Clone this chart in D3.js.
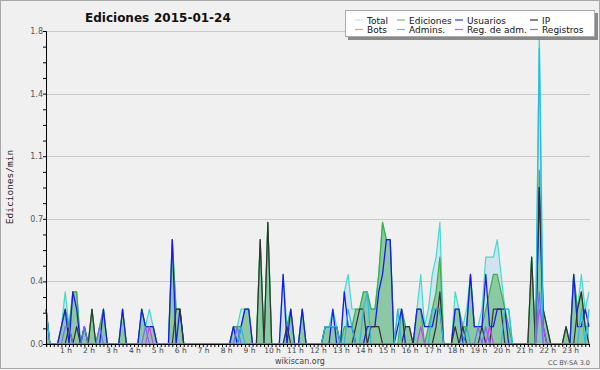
<!DOCTYPE html>
<html><head><meta charset="utf-8">
<script src="https://cdn.jsdelivr.net/npm/d3@7"></script>
<style>
html,body{margin:0;padding:0;background:#f0f0f0;}
svg{display:block;}
text{font-family:"DejaVu Sans",Verdana,sans-serif;}
</style></head>
<body>
<svg id="chart" width="600" height="370"></svg>
<script>
// 10-minute bins, index 0 = 00:00 ... 142 = 23:40
const total = [
 .2,0,0,0,.1,.3,.1,.3,.3,0,.1,0,
 .2,0,.1,.2,0,0,0,0,.2,0,0,0,
 0,.2,.1,.2,.1,0,0,0,0,.6,.2,.2,
 0,0,0,0,0,0,0,0,0,0,0,0,
 0,.1,.1,.2,.2,.2,0,0,.6,0,.7,0,
 0,0,.4,.1,.2,0,0,.2,0,0,0,0,
 0,.1,.1,.2,.1,0,.3,.4,.2,.2,.2,.3,
 .3,.2,.2,.4,.7,.6,.6,0,.2,.2,.1,.1,
 0,.2,.4,.1,.2,.4,.5,.7,0,0,0,.3,
 .2,.1,.2,.4,.1,.1,.2,.5,.5,.5,.6,.4,
 .2,.2,0,0,0,0,0,.5,0,1.8,.2,.1,
 0,0,0,0,.1,0,.4,.2,.4,.2,.3];
const ediciones = [
 .2,0,0,0,.1,.2,.1,.3,.3,0,.1,0,
 .2,0,.1,.2,0,0,0,0,.2,0,0,0,
 0,.2,.1,.1,.1,0,0,0,0,.6,.2,.2,
 0,0,0,0,0,0,0,0,0,0,0,0,
 0,.1,.1,.1,.2,.2,0,0,.6,0,.7,0,
 0,0,0,.1,.2,0,0,.2,0,0,0,0,
 0,.1,.1,.1,.1,0,.1,.1,.1,.2,.2,.3,
 .3,.2,.2,.4,.7,.6,.6,0,0,.2,.1,.1,
 0,.2,.2,0,.1,.2,.3,.5,0,0,0,.2,
 .2,.1,.1,.4,.1,.1,.1,.2,.3,.4,.4,.3,
 .2,.1,0,0,0,0,0,.5,0,1.0,.2,.1,
 0,0,0,0,.1,0,.4,.2,.3,.1,.1];
const usuarios = [
 .2,0,0,0,.1,.2,0,.3,.2,0,.1,0,
 0,0,0,.2,0,0,0,0,.2,0,0,0,
 0,.2,.1,.1,.1,0,0,0,0,.6,0,.2,
 0,0,0,0,0,0,0,0,0,0,0,0,
 0,.1,0,.1,.2,.2,0,0,0,0,0,0,
 0,0,.4,0,.2,0,0,.2,0,0,0,0,
 0,0,0,.2,0,0,.3,.1,.1,0,0,0,
 .1,.1,.1,.3,.4,.6,.6,0,.1,.2,0,0,
 0,.2,.2,.1,.1,.1,.2,.2,0,0,0,.2,
 .2,0,.1,.4,.1,.1,.1,.4,.1,.1,.2,.2,
 .2,0,0,0,0,0,0,0,0,.9,.1,0,
 0,0,0,0,0,0,.4,.1,.1,.2,.1];
const ip = [
 0,0,0,0,0,0,.1,0,.1,0,0,0,
 .2,0,0,0,0,0,0,0,0,0,0,0,
 0,0,0,0,0,0,0,0,0,0,.2,.2,
 0,0,0,0,0,0,0,0,0,0,0,0,
 0,0,0,0,0,0,0,0,.6,0,.7,0,
 0,0,0,.1,0,0,0,0,0,0,0,0,
 0,.1,.1,.1,.1,0,0,0,0,.1,.2,.2,
 0,.1,.1,.1,0,0,0,0,0,0,.1,.1,
 0,0,0,0,0,0,.1,.3,0,0,0,.1,
 0,.1,0,0,0,0,.1,0,0,.2,.2,.2,
 0,0,0,0,0,0,0,.5,0,.9,.2,.1,
 0,0,0,0,.1,0,0,.2,.3,.1,0];
const bots = [
 0,0,0,0,0,0,0,0,0,0,0,0, 0,0,0,0,0,0,0,0,0,0,0,0,
 0,0,0,0,0,0,0,0,0,0,0,0, 0,0,0,0,0,0,0,0,0,0,0,0,
 0,0,0,0,0,0,0,0,0,0,0,0, 0,0,0,0,0,0,0,0,0,0,0,0,
 0,0,0,0,0,0,0,0,0,0,0,0, 0,0,0,0,0,0,0,0,0,0,0,0,
 0,0,0,0,0,0,0,0,0,0,0,0, 0,0,0,0,0,0,0,0,0,0,0,0,
 0,0,0,0,0,0,0,0,0,0,0,0, 0,0,0,0,0,0,0,0,0,0,0];
const admins = [
 .2,0,0,0,0,0,0,0,0,0,0,0, 0,0,0,0,0,0,0,0,0,0,0,0,
 0,0,0,0,0,0,0,0,0,0,0,0, 0,0,0,0,0,0,0,0,0,0,0,0,
 0,0,0,.1,0,0,0,0,0,0,0,0, 0,0,0,0,0,0,0,0,0,0,0,0,
 0,.1,.1,.1,.1,0,0,.2,.1,0,0,.2, .3,0,0,0,0,0,0,0,.2,0,0,0,
 0,0,0,0,0,.2,.2,.2,0,0,0,0, 0,0,.1,0,0,0,0,0,0,0,0,0,
 .2,.2,0,0,0,0,0,0,0,1.7,0,0, 0,0,0,0,0,0,0,0,.2,0,.2];
const regAdm = [
 0,0,0,0,0,0,0,0,0,0,0,0, 0,0,0,0,0,0,0,0,0,0,0,0,
 0,0,0,.1,0,0,0,0,0,0,0,0, 0,0,0,0,0,0,0,0,0,0,0,0,
 0,0,0,0,0,0,0,0,0,0,0,0, 0,0,0,0,0,0,0,0,0,0,0,0,
 0,0,0,0,0,0,0,0,0,0,0,0, 0,0,0,0,0,0,0,0,0,0,0,0,
 0,0,.1,0,0,0,0,0,0,0,0,0, 0,0,0,0,0,0,0,0,.1,0,0,0,
 0,0,0,0,0,0,0,0,0,.2,.1,0, 0,0,0,0,0,0,0,0,0,0,0];
const registros = [
 0,0,0,0,0,.1,.1,0,0,0,.1,0, 0,0,.1,0,0,0,0,0,0,0,0,0,
 0,0,.1,0,0,0,0,0,0,0,0,0, 0,0,0,0,0,0,0,0,0,0,0,0,
 0,0,.1,0,0,0,0,0,0,0,0,0, 0,0,0,0,0,0,0,0,0,0,0,0,
 0,0,0,0,0,0,0,0,0,0,0,0, 0,0,0,0,0,0,0,0,0,0,0,0,
 0,0,0,0,0,0,0,0,0,0,0,0, 0,0,0,0,0,.1,0,.1,0,0,0,0,
 0,0,0,0,0,0,0,0,0,.3,0,0, 0,0,0,0,0,0,0,0,0,0,0];

const hourLabels = ["1 h","2 h","3 h","4 h","5 h","6 h","7 h","8 h","9 h","10 h","11 h","12 h",
 "13 h","14 h","15 h","16 h","17 h","18 h","19 h","20 h","21 h","22 h","23 h"];
const yLabelValues = [0,0.36,0.72,1.08,1.44,1.8];
const legendNames = ["Total","Ediciones","Usuarios","IP","Bots","Admins.","Reg. de adm.","Registros"];
const titleText = ["Ediciones","2015-01-24"];
const yTitle = "Ediciones/min";

const svg = d3.select("#chart");
svg.append("rect").attr("x",0.5).attr("y",0.5).attr("width",599).attr("height",368)
  .attr("fill","#f0f0f0").attr("stroke","#a8a8a8");

const x = d3.scaleLinear().domain([0, total.length-1]).range([46.1, 589]);
const y = d3.scaleLinear().domain([0, 1.8]).range([344, 31]);

// grid
svg.append("g").selectAll("line").data(yLabelValues.slice(1)).join("line")
  .attr("x1",46).attr("x2",590).attr("y1",d=>Math.round(y(d))+0.5).attr("y2",d=>Math.round(y(d))+0.5)
  .attr("stroke","#c8c8c8").attr("stroke-width",1);

const idx = d3.range(total.length);
const line = arr => d3.line().x(i=>x(i)).y(i=>y(arr[i]))(idx);
const area = arr => d3.area().x(i=>x(i)).y0(y(0)).y1(i=>y(arr[i]))(idx);

const series = [
  {name:"Total", data: total, color:"#3fdccc", w:1.2},
  {name:"Ediciones", data: ediciones, color:"#3cb043", w:1.2},
  {name:"Usuarios", data: usuarios, color:"#1a1aee", w:1.3},
  {name:"IP", data: ip, color:"#333333", w:1.2},
  {name:"Bots", data: bots, color:"#ffa500", w:1.2},
  {name:"Admins.", data: admins, color:"#2ab8e6", w:1.2},
  {name:"Reg. de adm.", data: regAdm, color:"#d83cf0", w:1.2},
  {name:"Registros", data: registros, color:"#6f6fff", w:1.2}
];
const fills = {"Total":["#c4dff0",0.75],"Ediciones":["#4aad55",0.5]};
series.forEach(s=>{
  if (fills[s.name]) {
    svg.append("path").attr("d",area(s.data)).attr("fill",fills[s.name][0]).attr("fill-opacity",fills[s.name][1]);
  }
  svg.append("path").attr("d",line(s.data)).attr("fill","none")
    .attr("stroke",s.color).attr("stroke-width",s.w).attr("stroke-linejoin","round");
});

// axes
const yTicks = d3.range(0,21).map(k=>k*0.09);
const yAxis = d3.axisLeft(y).tickValues(yTicks).tickSize(3).tickFormat(()=>"");
const gy = svg.append("g").attr("transform","translate(46,0)").call(yAxis);
gy.select(".domain").attr("stroke","#000");
gy.selectAll(".tick line").attr("stroke","#000");
svg.append("g").selectAll("text").data(yLabelValues).join("text")
  .attr("x",43).attr("y",d=>y(d)+3).attr("text-anchor","end")
  .attr("font-size",8).attr("fill","#555").text(d=>d3.format(".1f")(d));

const xAxis = d3.axisBottom(x).tickValues(idx).tickSize(3).tickFormat(()=>"");
const gx = svg.append("g").attr("transform","translate(0,344)").call(xAxis);
gx.select(".domain").attr("stroke","#000");
gx.selectAll(".tick line").attr("stroke","#000");
svg.append("g").selectAll("text").data(hourLabels).join("text")
  .attr("x",(d,k)=>x((k+1)*6)-3).attr("y",353).attr("text-anchor","middle")
  .attr("font-size",7.5).attr("fill","#444").text(d=>d);

// y title
svg.append("text").attr("transform","translate(13,187) rotate(-90)")
  .attr("text-anchor","middle").attr("font-size",9.5)
  .style("font-family","'DejaVu Sans Mono',monospace").attr("fill","#222").text(yTitle);

// title
svg.append("text").attr("x",85).attr("y",22).attr("font-size",12).attr("font-weight","bold")
  .attr("fill","#111").text(titleText[0]);
svg.append("text").attr("x",154).attr("y",22).attr("font-size",12).attr("font-weight","bold")
  .attr("fill","#111").text(titleText[1]);

// footer
svg.append("text").attr("x",300).attr("y",364).attr("text-anchor","middle")
  .attr("font-size",8).attr("fill","#444").text("wikiscan.org");
svg.append("text").attr("x",590).attr("y",365).attr("text-anchor","end")
  .attr("font-size",6.5).attr("fill","#555").text("CC BY-SA 3.0");

// legend
const lg = svg.append("g");
lg.append("rect").attr("x",348).attr("y",13).attr("width",250).attr("height",27).attr("fill","#8a8a8a");
lg.append("rect").attr("x",345.5).attr("y",10.5).attr("width",249).attr("height",26)
  .attr("fill","#fff").attr("stroke","#aaa");
const colX = [355,397,455,530];
const legendColors = {"Total":"#b6f0ea","Ediciones":"#6dcc6d","Usuarios":"#3434ee","IP":"#333",
  "Bots":"#ffa020","Admins.":"#40d0ee","Reg. de adm.":"#e050f0","Registros":"#7a7aff"};
legendNames.forEach((n,k)=>{
  const cx = colX[k%4], row = Math.floor(k/4);
  const ly = row===0 ? 20 : 29.5;
  lg.append("line").attr("x1",cx).attr("x2",cx+8).attr("y1",ly).attr("y2",ly)
    .attr("stroke",legendColors[n]).attr("stroke-width",1.2);
  lg.append("text").attr("x",cx+12).attr("y",ly+3.5).attr("font-size",9).attr("fill","#111").text(n);
});
</script>
</body></html>
